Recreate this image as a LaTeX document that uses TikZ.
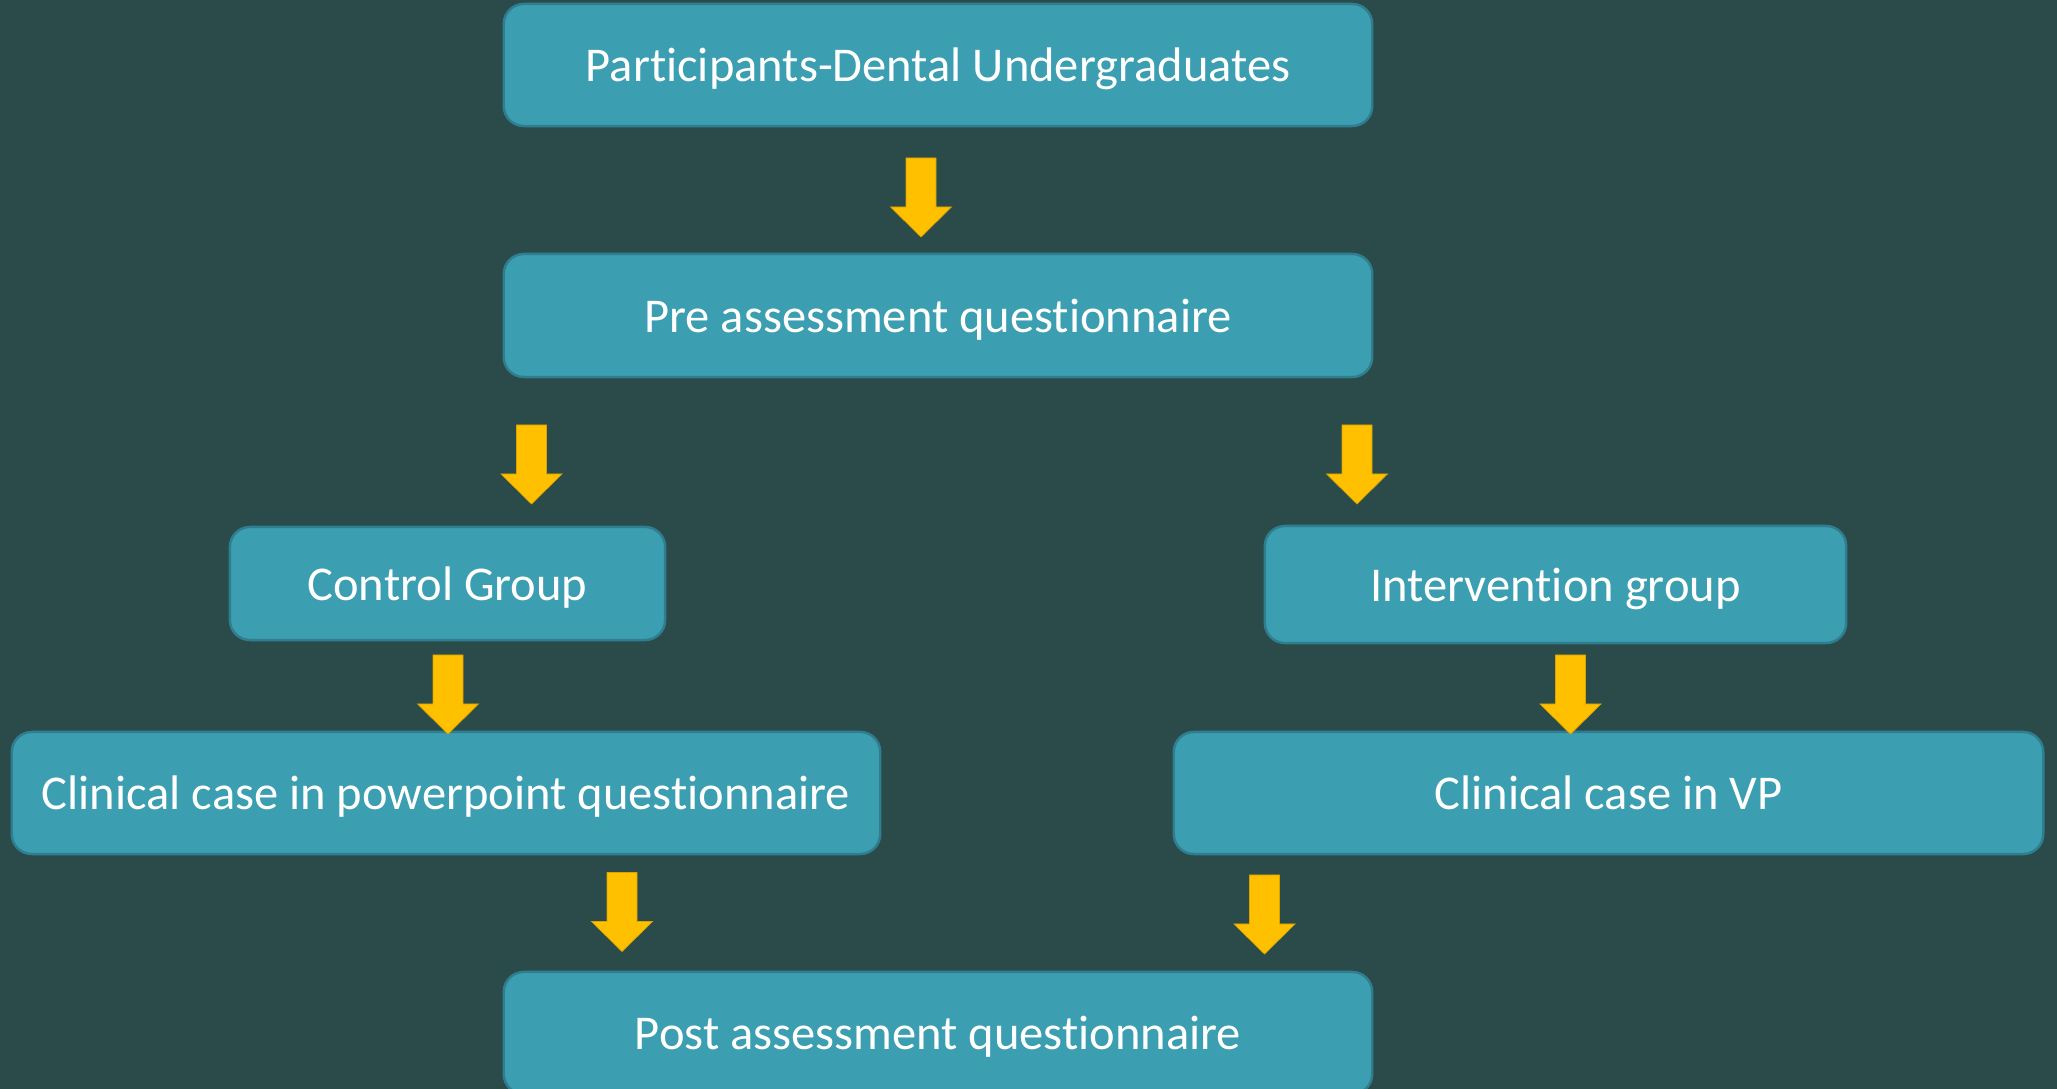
\documentclass[tikz,border=0pt]{standalone}
\usepackage{fontspec}
\setmainfont{Carlito}[Ligatures={NoCommon}]
\definecolor{bgteal}{HTML}{2A4B4A}
\definecolor{boxfill}{HTML}{3C9EB1}
\definecolor{boxline}{HTML}{2F7E8F}
\definecolor{arrgold}{HTML}{FFC000}
\tikzset{
 stage/.style={draw=boxline,line width=0.7pt,fill=boxfill,rounded corners=0.2cm,
  text=white,font=\fontsize{13.8}{16}\selectfont,inner sep=0pt,text depth=0pt,
  minimum height=1.22cm},
 pics/downarr/.style={code={
  \fill[arrgold,draw=arrgold!85!black,line width=0.2pt]
   (-15,0)--(15,0)--(15,49)--(30.5,49)--(0,79)--(-30.5,49)--(-15,49)--cycle;}}
}
\begin{document}
\begin{tikzpicture}[x=0.01cm,y=-0.01cm]
 \fill[bgteal](0,0) rectangle (2057,1089);
 \useasboundingbox (0,0) rectangle (2057,1089);
 % boxes
 \node[stage,minimum width=8.68cm](part) at (938,65) {Participants-Dental Undergraduates};
 \node[stage,minimum width=8.68cm,minimum height=1.23cm](pre) at (938,315.5) {Pre assessment questionnaire};
 \node[stage,minimum width=4.35cm,minimum height=1.13cm](ctrl) at (447.5,583.5) {Control Group};
 \node[stage,minimum width=5.81cm,minimum height=1.17cm](intv) at (1555.5,584.5) {Intervention group};
 \node[stage,minimum width=8.68cm](ppt) at (446,793) {Clinical case in powerpoint questionnaire};
 \node[stage,minimum width=8.69cm](vp) at (1608.5,793) {Clinical case in VP};
 \node[stage,minimum width=8.68cm](post) at (938,1033) {Post assessment questionnaire};
 % arrows
 \coordinate (a1) at (921,158);
 \coordinate (a2) at (531.5,425);
 \coordinate (a3) at (1357,425);
 \coordinate (a4) at (448,655);
 \coordinate (a5) at (1570.5,655);
 \coordinate (a6) at (622,872.5);
 \coordinate (a7) at (1264.5,875);
 \foreach \a in {a1,a2,a3,a4,a5,a6,a7}
  \pic at (\a) {downarr};
\end{tikzpicture}
\end{document}
